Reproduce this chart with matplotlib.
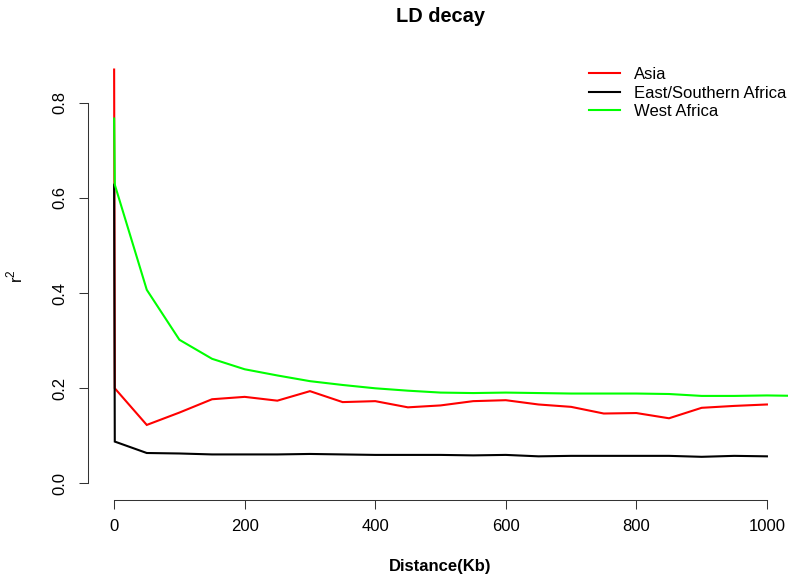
"""LD decay curves (r^2 against pairwise distance) for three populations."""
import matplotlib
matplotlib.use("Agg")
import matplotlib.pyplot as plt

plt.rcParams["font.family"] = ["Liberation Sans", "DejaVu Sans"]
plt.rcParams["mathtext.fontset"] = "custom"
plt.rcParams["mathtext.rm"] = "Liberation Sans"

# distance bins (Kb); the first two points sit at the origin
dist = [0, 1, 50, 100, 150, 200, 250, 300, 350, 400, 450, 500,
        550, 600, 650, 700, 750, 800, 850, 900, 950, 1000]
dist_west = dist + [1050]

r2_asia = [0.870, 0.200, 0.123, 0.149, 0.177, 0.182, 0.174, 0.194, 0.171, 0.173, 0.160, 0.164,
           0.173, 0.175, 0.166, 0.161, 0.147, 0.148, 0.137, 0.159, 0.163, 0.166]
r2_east = [0.628, 0.088, 0.064, 0.063, 0.061, 0.061, 0.061, 0.062, 0.061, 0.060, 0.060, 0.060,
           0.059, 0.060, 0.057, 0.058, 0.058, 0.058, 0.058, 0.056, 0.058, 0.057]
r2_west = [0.767, 0.628, 0.407, 0.302, 0.262, 0.240, 0.227, 0.215, 0.207, 0.200, 0.195, 0.191,
           0.190, 0.191, 0.190, 0.189, 0.189, 0.189, 0.188, 0.184, 0.184, 0.185, 0.184]

series = [
    ("Asia", dist, r2_asia, "#FF0000"),
    ("East/Southern Africa", dist, r2_east, "#000000"),
    ("West Africa", dist_west, r2_west, "#00FF00"),
]

fig = plt.figure(figsize=(7.88, 5.74), dpi=100)
ax = fig.add_axes([0.1117, 0.1289, 0.8947, 0.7788])

for name, xs, ys, col in series:
    ax.plot(xs, ys, color=col, lw=1.5, label=name, solid_joinstyle="miter")

ax.set_xlim(-40, 1040)
ax.set_ylim(-0.0348, 0.9048)
ax.set_xticks([0, 200, 400, 600, 800, 1000])
ax.set_yticks([0.0, 0.2, 0.4, 0.6, 0.8])
ax.set_yticklabels(["0.0", "0.2", "0.4", "0.6", "0.8"], rotation=90, va="center")

# base-graphics look: open axes, lines only between first and last tick
for side in ("top", "right"):
    ax.spines[side].set_visible(False)
ax.spines["bottom"].set_bounds(0, 1000)
ax.spines["left"].set_bounds(0, 0.8)
for side in ("bottom", "left"):
    ax.spines[side].set_linewidth(0.75)
    ax.spines[side].set_color("#333333")
ax.tick_params(direction="out", length=6.5, width=0.75, color="#333333",
               labelsize=12)
ax.tick_params(axis="x", pad=7)
ax.tick_params(axis="y", pad=8.5)

ax.set_title("LD decay", fontsize=14.4, fontweight="bold", y=1.0805, va="center", pad=0)
ax.set_xlabel("Distance(Kb)", fontsize=12, fontweight="bold", va="center")
ax.xaxis.set_label_coords(0.5, -0.1477)
ax.set_ylabel(r"$\mathrm{r}^{2}$", fontsize=12, va="center")
ax.yaxis.set_label_coords(-0.1035, 0.5)

fig.legend(loc="upper left", bbox_to_anchor=(589 / 788, 0.883), frameon=False,
           fontsize=12, borderpad=0, borderaxespad=0, handlelength=1.86,
           handletextpad=0.84, labelspacing=0.21)

fig.savefig("out.png", dpi=100)
